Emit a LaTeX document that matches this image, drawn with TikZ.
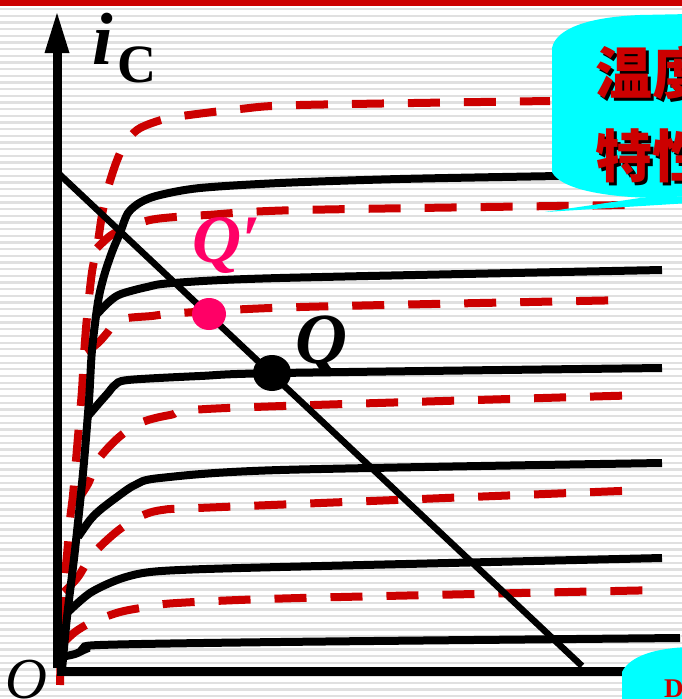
\documentclass[tikz,border=0pt]{standalone}
\usepackage{fontspec}
\setmainfont{Liberation Serif}
\newfontfamily\cjk{Noto Sans CJK SC}
\definecolor{myred}{RGB}{204,0,0}
\definecolor{mypink}{RGB}{255,0,102}
\definecolor{stripe}{RGB}{224,224,224}
\definecolor{mycyan}{RGB}{0,255,255}
\begin{document}
\begin{tikzpicture}[x=1pt,y=-1pt,
  blk/.style={line width=8pt, black},
  rdash/.style={line width=8pt, myred, dash pattern=on 32pt off 24pt},
  axis/.style={line width=9pt, black},
  lbl/.style={inner sep=0pt, anchor=base west},
  cjkred/.style={inner sep=0pt, anchor=base west, text=myred, font=\cjk\bfseries\fontsize{57}{57}\selectfont},
  cjkshadow/.style={inner sep=0pt, anchor=base west, text=black, font=\cjk\bfseries\fontsize{57}{57}\selectfont}]
\clip (0,0) rectangle (682,699);
\fill[white] (0,0) rectangle (682,699);
\foreach \i in {0,...,104} { \fill[stripe] (0,{8+\i*6.67}) rectangle (682,{10.3+\i*6.67}); }
\fill[myred] (0,0) rectangle (682,6);

% red dashed curves (higher temperature)
\draw[rdash] plot[smooth, tension=0.5] coordinates {(60,685) (62,610) (64,583) (67,555) (70,520) (73,495) (76,460) (79,425) (82,390) (84,355) (87,317) (92,272) (97,248) (102,215) (108,188) (116,163) (125,143) (137,130) (152,123) (175,117) (240,109) (300,105) (550,101)};
\draw[rdash] plot[smooth, tension=0.5] coordinates {(97,248) (110,236) (125,228) (150,220) (175,217) (207,215) (300,210) (630,205)};
\draw[rdash] plot[smooth, tension=0.5] coordinates {(86,352) (98,343) (107,333) (115,323) (128,318) (152,316) (180,313) (300,307) (630,300)};
\draw[rdash] plot[smooth, tension=0.5] coordinates {(74,505) (88,484) (98,460) (118,438) (140,423) (170,415) (227,408) (645,395)};
\draw[rdash] plot[smooth, tension=0.5] coordinates {(64,592) (78,577) (92,555) (115,533) (137,518) (162,510) (222,507) (645,490)};
\draw[rdash] plot[smooth, tension=0.5] coordinates {(61,645) (75,632) (92,622) (120,612) (147,607) (177,603) (300,598) (662,590)};

% black solid curves
\draw[blk] plot[smooth, tension=0.5] coordinates {(62,670) (67,617) (75,550) (83,473) (89,400) (92,350) (98,302) (104,276) (112,252) (120,233) (128,213) (141,202) (160,195) (200,188) (280,183) (400,179) (560,176)};
\draw[blk] plot[smooth, tension=0.5] coordinates {(97,314) (110,301) (121,294) (147,287) (173,283) (280,278) (662,270)};
\draw[blk] plot[smooth, tension=0.5] coordinates {(88,416) (100,402) (108,393) (115,385) (128,380) (200,376) (280,373) (662,368)};
\draw[blk] plot[smooth, tension=0.5] coordinates {(78,537) (90,520) (100,510) (117,497) (135,485) (160,478) (280,470) (662,463)};
\draw[blk] plot[smooth, tension=0.5] coordinates {(68,612) (90,593) (117,580) (143,573) (180,570) (280,567) (662,558)};
\draw[blk] plot[smooth, tension=0.5] coordinates {(61,657) (75,654) (86,649) (100,645) (280,642) (680,638)};

% axes
\draw[axis] (57,52) -- (57,668);
\draw[axis] (57,671) -- (640,671);
\fill[black] (57,13) -- (69.5,53) -- (44.5,53) -- cycle;

% load line
\coordinate (lA) at (57,172);
\coordinate (lB) at (582,666);
\draw[line width=6.5pt, black] (lA) -- (lB);

% operating points
\fill[mypink] (209,314) ellipse [x radius=17, y radius=16];
\fill[black] (272,373) ellipse [x radius=19, y radius=18];

% labels
\node[lbl, font=\fontsize{74}{74}\selectfont\bfseries\itshape] (il) at (92,64) {i};
\node[lbl, font=\fontsize{54}{54}\selectfont\bfseries] (cl) at (117,82) {C};
\node[lbl, font=\fontsize{58}{58}\selectfont\itshape] (ol) at (5,698) {O};
\node[lbl, font=\fontsize{72}{72}\selectfont\bfseries\itshape] (ql) at (295,363) {Q};
\node[lbl, font=\fontsize{68}{68}\selectfont\bfseries\itshape, text=mypink] (qpl) at (192,262) {Q′};

% cyan callouts
\fill[mycyan] (552,172) -- (552,48) .. controls (556,28) and (590,17) .. (640,15) -- (690,14) -- (690,196) -- (655,198) .. controls (600,197) and (560,188) .. (552,172) -- cycle;
\fill[mycyan] (545,212) -- (690,203) -- (690,196) -- (640,198) -- cycle;
\node[cjkshadow] at (598,97) {温度};
\node[cjkred] (t1) at (595,94) {温度};
\node[cjkshadow] at (598,180) {特性};
\node[cjkred] (t2) at (595,177) {特性};

\fill[mycyan] (622,700) -- (622,672) .. controls (630,656) and (655,648) .. (690,647) -- (690,700) -- cycle;
\node[lbl, font=\fontsize{27}{27}\selectfont\bfseries, text=myred] (dl) at (664,697) {D};
\end{tikzpicture}
\end{document}
